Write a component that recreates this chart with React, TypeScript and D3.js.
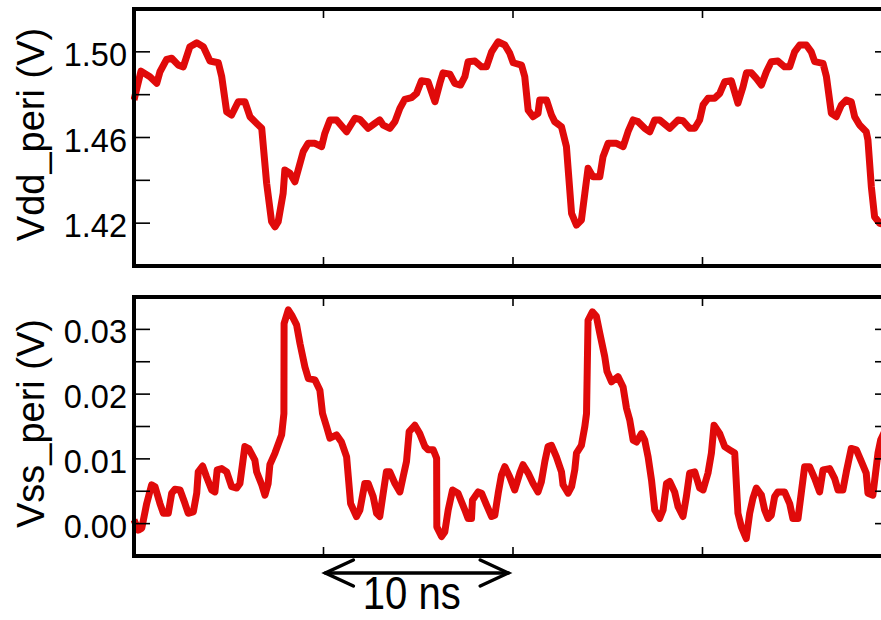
import React from "react";
import * as d3 from "d3";

const vddTime = [
  0, 0.37, 0.84, 1.2, 1.37, 1.72, 1.99, 2.34, 2.6, 2.95,
  3.31, 3.66, 4.01, 4.45, 4.63, 4.89, 5.15, 5.5, 5.85, 6.12,
  6.47, 6.74, 7.0, 7.26, 7.44, 7.61, 7.87, 7.96, 8.23, 8.49,
  8.93, 9.19, 9.55, 9.9, 10.07, 10.34, 10.69, 11.22, 11.66, 11.92,
  12.36, 12.71, 12.97, 13.15, 13.5, 13.77, 14.03, 14.29, 14.65, 14.91,
  15.17, 15.52, 15.88, 16.14, 16.31, 16.67, 16.93, 17.23, 17.46, 17.63,
  17.99, 18.34, 18.6, 18.87, 19.21, 19.57, 19.83, 20.01, 20.45, 20.62,
  20.8, 21.06, 21.32, 21.41, 21.77, 22.03, 22.2, 22.56, 22.82, 23.09,
  23.35, 23.61, 23.79, 23.96, 24.22, 24.58, 24.75, 25.02, 25.46, 25.81,
  25.9, 26.07, 26.34, 26.6, 26.95, 27.22, 27.48, 27.74, 28.27, 28.71,
  28.97, 29.32, 29.59, 29.85, 30.03, 30.29, 30.64, 30.91, 31.17, 31.52,
  31.87, 32.14, 32.32, 32.58, 32.84, 33.11, 33.37, 33.63, 33.98, 34.33,
  34.6, 34.86, 35.13, 35.48, 35.74, 35.92, 36.36, 36.54, 36.8, 37.06,
  37.33, 37.59, 37.85, 38.03, 38.29, 38.64, 38.73, 38.91, 39.08, 39.35,
  39.77,
];
const vddValues = [
  1.4775, 1.491, 1.4884, 1.4853, 1.4907, 1.4965, 1.497, 1.4938, 1.493, 1.5024,
  1.5042, 1.5024, 1.4957, 1.4949, 1.4884, 1.472, 1.4705, 1.4767, 1.4767, 1.4697,
  1.4666, 1.4643, 1.4386, 1.4207, 1.4183, 1.4207, 1.4339, 1.4448, 1.4433, 1.4393,
  1.4534, 1.4573, 1.4573, 1.4557, 1.4619, 1.4682, 1.4682, 1.4627, 1.469, 1.4685,
  1.4643, 1.4666, 1.4682, 1.4658, 1.4643, 1.4674, 1.4736, 1.4778, 1.4786, 1.4806,
  1.4865, 1.486, 1.4767, 1.4853, 1.4902, 1.4896, 1.4853, 1.4845, 1.4884, 1.4954,
  1.4957, 1.493, 1.493, 1.5, 1.5047, 1.5032, 1.4993, 1.4949, 1.4938, 1.4884,
  1.4728, 1.4697, 1.4713, 1.4775, 1.4775, 1.4705, 1.4674, 1.465, 1.4557, 1.4246,
  1.4191, 1.4215, 1.4339, 1.4456, 1.4417, 1.4417, 1.451, 1.4573, 1.4573, 1.4557,
  1.4581, 1.4627, 1.4682, 1.4674, 1.4643, 1.4627, 1.4682, 1.4682, 1.4643, 1.4682,
  1.4678, 1.4643, 1.4643, 1.4682, 1.4752, 1.4783, 1.4783, 1.4806, 1.486, 1.4865,
  1.476, 1.4837, 1.4902, 1.4902, 1.4876, 1.4845, 1.4907, 1.4954, 1.4957, 1.493,
  1.493, 1.5, 1.5032, 1.5032, 1.5, 1.4954, 1.4946, 1.4884, 1.4713, 1.4697,
  1.4752, 1.4775, 1.4767, 1.4697, 1.4658, 1.4627, 1.4588, 1.437, 1.423, 1.4199,
  1.4191,
];

const vssTime = [
  0, 0.23, 0.41, 0.67, 0.93, 1.11, 1.37, 1.55, 1.81, 1.99,
  2.16, 2.43, 2.69, 2.86, 3.13, 3.31, 3.39, 3.62, 3.83, 4.1,
  4.27, 4.39, 4.63, 4.89, 5.15, 5.42, 5.59, 5.85, 6.05, 6.38,
  6.47, 6.74, 6.91, 7.08, 7.17, 7.44, 7.79, 7.91, 7.92, 8.14,
  8.32, 8.58, 8.76, 9.02, 9.2, 9.55, 9.81, 9.95, 10.16, 10.34,
  10.69, 10.95, 11.22, 11.43, 11.74, 11.92, 12.18, 12.36, 12.62, 12.8,
  12.97, 13.15, 13.32, 13.5, 13.77, 14.03, 14.2, 14.38, 14.52, 14.82,
  15.08, 15.35, 15.52, 15.79, 15.97, 15.98, 16.23, 16.4, 16.58, 16.81,
  17.1, 17.46, 17.63, 17.81, 17.86, 18.16, 18.34, 18.6, 18.87, 19.04,
  19.22, 19.39, 19.57, 19.83, 20.09, 20.36, 20.53, 20.8, 21.06, 21.32,
  21.5, 21.68, 21.85, 22.03, 22.29, 22.56, 22.64, 22.91, 23.09, 23.26,
  23.35, 23.61, 23.79, 23.88, 23.96, 24.19, 24.4, 24.58, 24.84, 24.96,
  25.2, 25.54, 25.81, 25.99, 26.16, 26.34, 26.52, 26.78, 26.95, 27.13,
  27.31, 27.48, 27.74, 27.92, 28.1, 28.27, 28.53, 28.71, 28.97, 29.15,
  29.32, 29.59, 29.85, 30.03, 30.29, 30.47, 30.61, 30.91, 31.17, 31.43,
  31.7, 31.87, 32.05, 32.31, 32.49, 32.66, 32.84, 33.11, 33.28, 33.46,
  33.63, 33.81, 33.98, 34.33, 34.6, 34.77, 35.04, 35.21, 35.39, 35.65,
  35.92, 36.18, 36.36, 36.71, 36.97, 37.15, 37.41, 37.59, 37.85, 38.12,
  38.38, 38.64, 38.73, 38.99, 39.26, 39.4, 39.77,
];
const vssValues = [
  0.0006, -0.001, -0.0007, 0.0031, 0.006, 0.0057, 0.0031, 0.0016, 0.0016, 0.0047,
  0.0053, 0.0052, 0.0031, 0.0016, 0.0018, 0.0047, 0.008, 0.0089, 0.0072, 0.0052,
  0.0049, 0.0083, 0.0085, 0.008, 0.0057, 0.0055, 0.0062, 0.0119, 0.0116, 0.0098,
  0.008, 0.006, 0.0044, 0.0062, 0.0091, 0.0109, 0.0137, 0.017, 0.0309, 0.033,
  0.0322, 0.0307, 0.0278, 0.0242, 0.0224, 0.0222, 0.0206, 0.017, 0.015, 0.0132,
  0.0137, 0.0126, 0.0103, 0.0031, 0.0011, 0.0021, 0.0062, 0.0062, 0.0042, 0.0016,
  0.0011, 0.0047, 0.008, 0.008, 0.0062, 0.0049, 0.0072, 0.0096, 0.0142, 0.0152,
  0.0139, 0.0119, 0.0114, 0.0114, 0.0101, -0.0005, -0.002, -0.0013, 0.0021, 0.0052,
  0.0047, 0.0021, 0.0008, 0.0008, 0.0036, 0.0049, 0.0047, 0.0029, 0.0011, 0.0013,
  0.0047, 0.0075, 0.0088, 0.0072, 0.0052, 0.0078, 0.0091, 0.0078, 0.0062, 0.0049,
  0.0065, 0.0096, 0.0119, 0.0121, 0.0103, 0.008, 0.006, 0.0047, 0.0057, 0.0083,
  0.0109, 0.0121, 0.015, 0.017, 0.0314, 0.0327, 0.032, 0.0294, 0.0258, 0.0235,
  0.0219, 0.0227, 0.0211, 0.0178, 0.016, 0.0129, 0.0126, 0.0139, 0.0129, 0.0103,
  0.0067, 0.0021, 0.0008, 0.0021, 0.0062, 0.0065, 0.0049, 0.0026, 0.0011, 0.0042,
  0.0078, 0.008, 0.0055, 0.0052, 0.0078, 0.0109, 0.0152, 0.0139, 0.0119, 0.0114,
  0.0109, 0.0016, -0.0005, -0.0023, 0.0016, 0.0039, 0.0055, 0.0044, 0.0021, 0.0008,
  0.0013, 0.0042, 0.0049, 0.0049, 0.0031, 0.0008, 0.0008, 0.0047, 0.0088, 0.0088,
  0.007, 0.0049, 0.0083, 0.0085, 0.007, 0.0052, 0.0052, 0.008, 0.0116, 0.0114,
  0.0096, 0.0078, 0.0047, 0.0044, 0.0109, 0.0129, 0.0152,
];

const vddTicks = [1.42, 1.44, 1.46, 1.48, 1.5];
const vddTickLabels = [1.42, 1.46, 1.5];
const vssTicks = [0, 0.005, 0.01, 0.015, 0.02, 0.025, 0.03];
const vssTickLabels = [0, 0.01, 0.02, 0.03];
const timeTicks = [10, 20, 30];
const scaleBar = [10.1, 19.75];
const scaleBarLabel = "10 ns";

const W = 881;
const H = 620;
const FONT = "'Liberation Sans', Arial, sans-serif";
const RED = "#e00a0a";

const x = d3.scaleLinear().domain([0, 40]).range([134, 892]);

function Panel({ id, time, values, domain, top, bottom, ticks, labels, ylabel }) {
  const y = d3.scaleLinear().domain(domain).range([bottom, top]);
  const line = d3
    .line<number>()
    .x((_, i) => x(time[i]))
    .y((d) => y(d));
  const [x0, x1] = x.range();
  const fmt = d3.format(".2f");
  return (
    <g>
      <clipPath id={id}>
        <rect x={x0 - 3} y={top} width={x1 - x0 + 3} height={bottom - top} />
      </clipPath>
      <path
        d={line(values) || ""}
        fill="none"
        stroke={RED}
        strokeWidth={7}
        strokeLinejoin="round"
        clipPath={`url(#${id})`}
      />
      {ticks.map((t) => (
        <g key={t}>
          <line x1={x0} x2={x0 + 16} y1={y(t)} y2={y(t)} stroke="#000" strokeWidth={1.6} />
          <line x1={x1 - 17} x2={x1} y1={y(t)} y2={y(t)} stroke="#000" strokeWidth={1.6} />
        </g>
      ))}
      {timeTicks.map((t) => (
        <g key={t}>
          <line x1={x(t)} x2={x(t)} y1={top} y2={top + 9} stroke="#000" strokeWidth={1.6} />
          <line x1={x(t)} x2={x(t)} y1={bottom - 9} y2={bottom} stroke="#000" strokeWidth={1.6} />
        </g>
      ))}
      <rect x={x0} y={top} width={x1 - x0} height={bottom - top} fill="none" stroke="#000" strokeWidth={4} />
      {labels.map((t) => (
        <text key={t} x={127} y={y(t) + 14} textAnchor="end" fontSize={32.5} fontFamily={FONT} fill="#000">
          {fmt(t)}
        </text>
      ))}
      <text
        transform={`translate(44,${(top + bottom) / 2 - 3}) rotate(-90)`}
        textAnchor="middle"
        fontSize={38}
        fontFamily={FONT}
        fill="#000"
      >
        {ylabel}
      </text>
    </g>
  );
}

export default function App() {
  const ay = 573;
  const xa = x(scaleBar[0]);
  const xb = x(scaleBar[1]);
  return (
    <svg
      width={W}
      height={H}
      viewBox={`0 0 ${W} ${H}`}
      style={{ position: "absolute", left: 0, top: 0, display: "block", background: "#fff" }}
    >
      <rect width={W} height={H} fill="#fff" />
      <Panel
        id="clip-vdd"
        time={vddTime}
        values={vddValues}
        domain={[1.4, 1.52]}
        top={9}
        bottom={266}
        ticks={vddTicks}
        labels={vddTickLabels}
        ylabel="Vdd_peri (V)"
      />
      <Panel
        id="clip-vss"
        time={vssTime}
        values={vssValues}
        domain={[-0.005, 0.035]}
        top={297}
        bottom={556}
        ticks={vssTicks}
        labels={vssTickLabels}
        ylabel="Vss_peri (V)"
      />
      {/* 10 ns scale arrow */}
      <g stroke="#000" strokeWidth={3.5} fill="none" strokeLinecap="round" strokeLinejoin="miter">
        <line x1={xa} x2={xb} y1={ay} y2={ay} />
        <polyline points={`${xa + 28},${ay - 13} ${xa},${ay} ${xa + 28},${ay + 13}`} />
        <polyline points={`${xb - 28},${ay - 13} ${xb},${ay} ${xb - 28},${ay + 13}`} />
      </g>
      <text
        x={(xa + xb) / 2 - 5}
        y={609}
        textAnchor="middle"
        fontSize={46}
        fontFamily={FONT}
        textLength={98}
        lengthAdjust="spacingAndGlyphs"
        fill="#000"
      >
        {scaleBarLabel}
      </text>
    </svg>
  );
}
